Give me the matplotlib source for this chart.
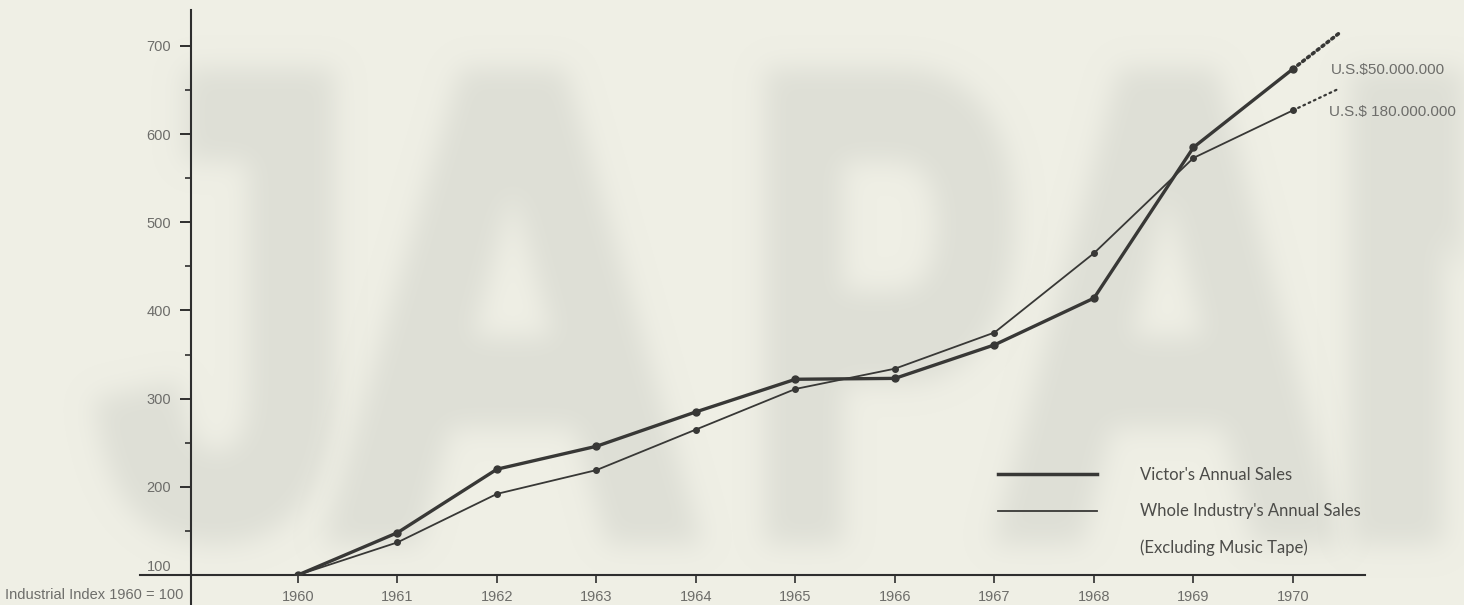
import numpy as np
import matplotlib
matplotlib.use("Agg")
import matplotlib.pyplot as plt
from matplotlib.lines import Line2D
from matplotlib.patches import PathPatch
from matplotlib.textpath import TextPath
from matplotlib.font_manager import FontProperties
from matplotlib.transforms import Affine2D

# index values, 1960 = 100
years = [1960, 1961, 1962, 1963, 1964, 1965, 1966, 1967, 1968, 1969, 1970]
victor = [100, 148, 220, 246, 285, 322, 323, 361, 414, 585, 674]
industry = [100, 137, 192, 219, 265, 311, 334, 375, 465, 573, 627]

# dotted continuation past 1970
trend_year = 1970.47
victor_trend = 715
industry_trend = 652

y_major = [200, 300, 400, 500, 600, 700]
y_minor = [150, 250, 350, 450, 550, 650]

victor_label = "Victor's Annual Sales"
industry_label = "Whole Industry's Annual Sales"
note_label = "(Excluding Music Tape)"
victor_amount = "U.S.$50.000.000"
industry_amount = "U.S.$ 180.000.000"

BG = "#efefe5"
INK = "#383836"
GREY = "#6d6d6a"
FONT = "Liberation Sans"
W, H = 1464, 605


def soften(rgb, sigma=13):
    # blur only the alpha channel so the letter edges fade into the paper
    def _filter(image, dpi):
        pad = 3 * sigma
        a = np.pad(image[..., 3], pad)
        k = np.exp(-0.5 * (np.arange(-pad, pad + 1) / sigma) ** 2)
        k /= k.sum()
        for axis in (0, 1):
            out = np.zeros_like(a)
            for i, w in enumerate(k):
                out += w * np.roll(a, i - pad, axis=axis)
            a = out
        img = np.empty(a.shape + (4,))
        img[..., :3] = rgb
        img[..., 3] = a
        return img, -pad, -pad
    return _filter


fig = plt.figure(figsize=(W / 100, H / 100), dpi=100, facecolor=BG)

# faded "JAPAN" lettering behind the chart: (letter, left px, width px)
big_letters = [("J", 105, 220), ("A", 335, 355), ("P", 775, 230),
               ("A", 1005, 325), ("N", 1360, 340)]
bold = FontProperties(family=FONT, weight="bold")
shade = "#dedfd6"
for ch, left, width in big_letters:
    path = TextPath((0, 0), ch, size=1, prop=bold)
    ext = path.get_extents()
    tr = (Affine2D().translate(-ext.x0, -ext.y0)
          .scale(width / ext.width / W, 457 / ext.height / H)
          .translate(left / W, (H - 535) / H) + fig.transFigure)
    # the outline fattens the strokes a little
    patch = PathPatch(path, transform=tr, facecolor=shade, edgecolor=shade,
                      linewidth=14, joinstyle="miter", zorder=-5)
    patch.set_agg_filter(soften(matplotlib.colors.to_rgb(shade)))
    fig.add_artist(patch)

ax = fig.add_axes([191 / W, 30 / H, 1174 / W, 565 / H])
ax.set_facecolor("none")
for s in ax.spines.values():
    s.set_visible(False)

ax.set_xlim(1958.925, 1970.724)
ax.set_ylim(100, 740.8)

ax.plot(years, industry, color=INK, lw=1.3, marker="o", ms=4, zorder=3)
ax.plot(years, victor, color=INK, lw=2.4, marker="o", ms=5, zorder=4)
ax.plot([years[-1], trend_year], [victor[-1], victor_trend], color=INK,
        lw=2.6, ls=(0, (0.6, 1.1)), dash_capstyle="round", zorder=4)
ax.plot([years[-1], trend_year], [industry[-1], industry_trend], color=INK,
        lw=1.6, ls=(0, (0.8, 1.8)), dash_capstyle="round", zorder=3)

# axis lines run past the plot corner
ax.plot([0, 0], [1, -0.07], transform=ax.transAxes, clip_on=False,
        color="#2e2e2e", lw=1.5)
ax.plot([-0.0434, 1], [0, 0], transform=ax.transAxes, clip_on=False,
        color="#2e2e2e", lw=1.5)

ax.set_xticks(years)
ax.set_xticklabels([str(y) for y in years], family=FONT, fontsize=10.5)
ax.set_yticks(y_major)
ax.set_yticklabels([str(v) for v in y_major], family=FONT, fontsize=10.5)
ax.set_yticks(y_minor, minor=True)
ax.tick_params(axis="x", direction="out", length=5.8, width=1.2, pad=5,
               color="#2e2e2e", labelcolor=GREY)
ax.tick_params(axis="y", which="major", direction="out", length=8, width=1.4,
               pad=6.5, color="#2e2e2e", labelcolor=GREY)
ax.tick_params(axis="y", which="minor", direction="out", length=4.3,
               width=1.2, color="#2e2e2e", labelleft=False)

ax.annotate("100", xy=(0, 100), xycoords=("axes fraction", "data"),
            xytext=(-14.4, 1), textcoords="offset points", ha="right",
            va="bottom", family=FONT, fontsize=10.5, color=GREY)
ax.annotate("Industrial Index 1960 = 100", xy=(0, 100),
            xycoords=("axes fraction", "data"), xytext=(-5.8, -14.4),
            textcoords="offset points", ha="right", va="center",
            family=FONT, fontsize=10.5, color=GREY)

ax.annotate(victor_amount, xy=(years[-1], victor[-1]), xytext=(27.4, -0.5),
            textcoords="offset points", ha="left", va="center",
            family=FONT, fontsize=11, color=GREY)
ax.annotate(industry_amount, xy=(years[-1], industry[-1]), xytext=(26, -1.5),
            textcoords="offset points", ha="left", va="center",
            family=FONT, fontsize=11, color=GREY)

handles = [Line2D([], [], color=INK, lw=2.5),
           Line2D([], [], color=INK, lw=1.3),
           Line2D([], [], linestyle="none")]
leg = ax.legend(handles, [victor_label, industry_label, note_label],
                loc="upper left", bbox_to_anchor=(998 / W, 138 / H),
                bbox_transform=fig.transFigure, frameon=False,
                handlelength=5.94, handletextpad=2.58, labelspacing=1.22,
                borderpad=0, borderaxespad=0,
                prop={"family": "Lato", "size": 12})
for t in leg.get_texts():
    t.set_color("#4c4c49")

fig.savefig("out.png", dpi=100, facecolor=BG)
